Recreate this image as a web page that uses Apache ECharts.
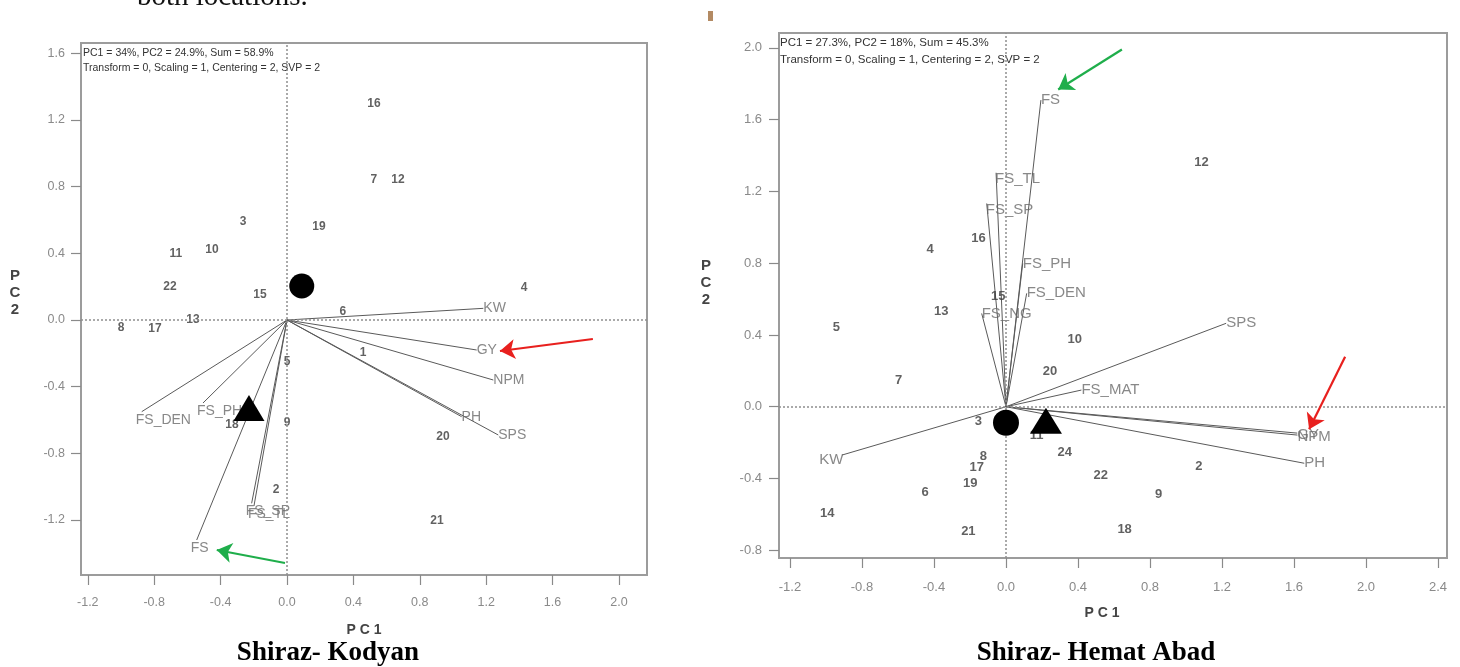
<!DOCTYPE html>
<html><head><meta charset="utf-8">
<script src="https://cdn.jsdelivr.net/npm/echarts@6/dist/echarts.min.js"></script>
<style>html,body{margin:0;padding:0;background:#fff}#c{width:1460px;height:667px}</style>
</head><body><div id="c"></div>
<script>
// ---------- Shiraz- Kodyan (left biplot) ----------
const kodGenoNames = ['16','7','12','3','19','11','10','22','15','4','6','8','17','13','1','5','9','18','20','2','21'];
const kodGenoPC1 = [0.524,0.524,0.669,-0.265,0.193,-0.669,-0.452,-0.705,-0.163,1.428,0.337,-1.0,-0.795,-0.566,0.458,0.0,0.0,-0.331,0.94,-0.066,0.904];
const kodGenoPC2 = [1.296,0.84,0.84,0.588,0.558,0.396,0.42,0.198,0.15,0.192,0.048,-0.048,-0.054,0.0,-0.198,-0.252,-0.618,-0.63,-0.702,-1.02,-1.206];
const kodTraitNames = ['KW','GY','NPM','PH','SPS','FS_DEN','FS_PH','FS','FS_SP','FS_TL'];
const kodTraitPC1 = [1.183,1.143,1.243,1.052,1.273,-0.875,-0.506,-0.544,-0.213,-0.199];
const kodTraitPC2 = [0.070,-0.18,-0.36,-0.58,-0.69,-0.55,-0.498,-1.32,-1.10,-1.116];
const kodCircle = [0.089, 0.204];
const kodTriangle = [-0.229, -0.528];
const kodRedArrow = [[1.843,-0.114],[1.283,-0.186]];
const kodGreenArrow = [[-0.012,-1.458],[-0.423,-1.38]];
const kodXTicks = [-1.2,-0.8,-0.4,0,0.4,0.8,1.2,1.6,2.0];
const kodYTicks = [-1.2,-0.8,-0.4,0,0.4,0.8,1.2,1.6];
const kodStats = ['PC1 = 34%, PC2 = 24.9%, Sum = 58.9%','Transform = 0, Scaling = 1, Centering = 2, SVP = 2'];

// ---------- Shiraz- Hemat Abad (right biplot) ----------
const hemGenoNames = ['12','4','16','5','13','15','10','20','7','3','11','24','8','17','19','6','22','2','9','18','14','21'];
const hemGenoPC1 = [1.086,-0.421,-0.153,-0.942,-0.36,-0.043,0.382,0.244,-0.597,-0.153,0.17,0.327,-0.126,-0.162,-0.199,-0.449,0.526,1.071,0.848,0.659,-0.993,-0.209];
const hemGenoPC2 = [1.363,0.878,0.938,0.444,0.533,0.613,0.375,0.195,0.149,-0.084,-0.158,-0.256,-0.279,-0.338,-0.427,-0.479,-0.384,-0.33,-0.486,-0.681,-0.594,-0.696];
const hemTraitNames = ['FS','FS_TL','FS_SP','FS_PH','FS_DEN','FS_NG','SPS','FS_MAT','GY','NPM','PH','KW'];
const hemTraitPC1 = [0.194,-0.055,-0.107,0.093,0.115,-0.135,1.223,0.419,1.618,1.619,1.657,-0.91];
const hemTraitPC2 = [1.709,1.304,1.133,0.799,0.632,0.52,0.465,0.093,-0.147,-0.158,-0.315,-0.269];
const hemCircle = [0.0, -0.089];
const hemTriangle = [0.222, -0.078];
const hemGreenArrow = [[0.644,1.991],[0.29,1.768]];
const hemRedArrow = [[1.884,0.279],[1.684,-0.126]];
const hemXTicks = [-1.2,-0.8,-0.4,0,0.4,0.8,1.2,1.6,2.0,2.4];
const hemYTicks = [-0.8,-0.4,0,0.4,0.8,1.2,1.6,2.0];
const hemStats = ['PC1 = 27.3%, PC2 = 18%, Sum = 45.3%','Transform = 0, Scaling = 1, Centering = 2, SVP = 2'];

const RED = '#e8201e', GREEN = '#1fae4b';

const chart = echarts.init(document.getElementById('c'), null, {renderer:'canvas'});

function axis(gi, min, max, ticks, margin, fs){
  return {type:'value', gridIndex:gi, min:min, max:max,
    axisLine:{show:false, onZero:false}, splitLine:{show:false},
    axisTick:{show:true, inside:false, length:10, customValues:ticks, lineStyle:{color:'#8a8a8a', width:1.2}},
    axisLabel:{customValues:ticks, margin:margin, color:'#8a8a8a', fontSize:fs, fontFamily:'Liberation Sans',
      formatter:v=>v.toFixed(1)}};
}
function vectors(gi, names, xs, ys){
  return {type:'lines', coordinateSystem:'cartesian2d', xAxisIndex:gi, yAxisIndex:gi, silent:true, z:2,
    symbol:['none','none'], lineStyle:{color:'#5a5a5a', width:1, opacity:1},
    data:names.map((n,i)=>({coords:[[0,0],[xs[i],ys[i]]]}))};
}
function vectorLabels(gi, names, xs, ys, offsetFn, fs){
  return {type:'scatter', xAxisIndex:gi, yAxisIndex:gi, symbolSize:0, silent:true, z:3,
    data:names.map((n,i)=>({name:n, value:[xs[i],ys[i]], label:{offset:offsetFn(n,xs[i],ys[i])}})),
    label:{show:true, position:'right', distance:0, formatter:p=>p.name, color:'#6a6a6a', fontSize:fs, fontFamily:'Liberation Sans'}};
}
function genoLabels(gi, names, xs, ys, fs){
  return {type:'scatter', xAxisIndex:gi, yAxisIndex:gi, symbolSize:0, silent:true, z:4,
    data:names.map((n,i)=>({name:n, value:[xs[i],ys[i]]})),
    label:{show:true, position:'inside', formatter:p=>p.name, color:'#3a3a3a', fontSize:fs, fontWeight:'bold', fontFamily:'Liberation Sans'},
    markLine:{silent:true, symbol:['none','none'], label:{show:false},
      lineStyle:{type:[2,2], color:'#8f8f8f', width:1.5},
      data:[{xAxis:0},{yAxis:0}]}};
}
function marker(gi, pt, sym, size){
  return {type:'scatter', xAxisIndex:gi, yAxisIndex:gi, symbol:sym, symbolSize:size, silent:true, z:6,
    itemStyle:{color:'#000', opacity:1}, data:[pt]};
}
function arrow(gi, seg, color){
  return {type:'lines', coordinateSystem:'cartesian2d', xAxisIndex:gi, yAxisIndex:gi, silent:true, z:7,
    symbol:['none','arrow'], symbolSize:[1,15],
    lineStyle:{color:color, width:2.2, opacity:1}, itemStyle:{color:color},
    data:[{coords:seg}]};
}

const kodOffset = (n,x,y)=> x<0 ? [-6, 8] : [0,0];
const hemOffset = (n,x,y)=> {
  if (n==='KW') return [-23, 5];
  if (n==='FS_TL' || n==='FS_SP') return [-1, 6];
  if (n==='NPM' || n==='GY') return [0, 2];
  return [0, 0];
};

const txt = (x,y,text,font,fill,align,valign,extra)=>({type:'text', x:x, y:y, silent:true,
  style:Object.assign({text:text, font:font, fill:fill, textAlign:align||'left', textVerticalAlign:valign||'middle'}, extra||{})});

const option = {
  animation:false,
  backgroundColor:'#fff',
  grid:[
    {left:81, top:43, width:566, height:532, show:true, borderColor:'#9c9c9c', borderWidth:2, backgroundColor:'transparent'},
    {left:779, top:33, width:668, height:525, show:true, borderColor:'#9c9c9c', borderWidth:2, backgroundColor:'transparent'}
  ],
  xAxis:[
    axis(0, -1.241, 2.169, kodXTicks, 21, 12.5),
    axis(1, -1.261, 2.45, hemXTicks, 23, 13)
  ],
  yAxis:[
    axis(0, -1.53, 1.662, kodYTicks, 16, 12.5),
    axis(1, -0.843, 2.083, hemYTicks, 17, 13)
  ],
  series:[
    genoLabels(0, kodGenoNames, kodGenoPC1, kodGenoPC2, 12),
    vectors(0, kodTraitNames, kodTraitPC1, kodTraitPC2),
    vectorLabels(0, kodTraitNames, kodTraitPC1, kodTraitPC2, kodOffset, 14),
    marker(0, kodCircle, 'circle', 25),
    marker(0, kodTriangle, 'triangle', [31,26]),
    arrow(0, kodRedArrow, RED),
    arrow(0, kodGreenArrow, GREEN),

    genoLabels(1, hemGenoNames, hemGenoPC1, hemGenoPC2, 13),
    vectors(1, hemTraitNames, hemTraitPC1, hemTraitPC2),
    vectorLabels(1, hemTraitNames, hemTraitPC1, hemTraitPC2, hemOffset, 15),
    marker(1, hemCircle, 'circle', 26),
    marker(1, hemTriangle, 'triangle', [32,26]),
    arrow(1, hemGreenArrow, GREEN),
    arrow(1, hemRedArrow, RED)
  ],
  graphic:[
    txt(137, 12, 'both locations.', '29px "Liberation Serif"', '#111', 'left', 'bottom'),
    {type:'rect', silent:true, shape:{x:708, y:11, width:5, height:10}, style:{fill:'#b38a63'}},
    txt(83, 53, kodStats[0], '10.5px "Liberation Sans"', '#333'),
    txt(83, 68, kodStats[1], '10.5px "Liberation Sans"', '#333'),
    txt(780, 43, hemStats[0], '11.5px "Liberation Sans"', '#333'),
    txt(780, 60, hemStats[1], '11.5px "Liberation Sans"', '#333'),
    txt(364, 630, 'P C 1', 'bold 14px "Liberation Sans"', '#444', 'center'),
    txt(1102, 613, 'P C 1', 'bold 14px "Liberation Sans"', '#444', 'center'),
    txt(15, 293, 'P\nC\n2', 'bold 15px "Liberation Sans"', '#444', 'center', 'middle', {lineHeight:17}),
    txt(706, 283, 'P\nC\n2', 'bold 15px "Liberation Sans"', '#444', 'center', 'middle', {lineHeight:17}),
    txt(328, 653, 'Shiraz- Kodyan', 'bold 27px "Liberation Serif"', '#000', 'center'),
    txt(1096, 653, 'Shiraz- Hemat Abad', 'bold 27px "Liberation Serif"', '#000', 'center')
  ]
};
chart.setOption(option);
</script></body></html>
